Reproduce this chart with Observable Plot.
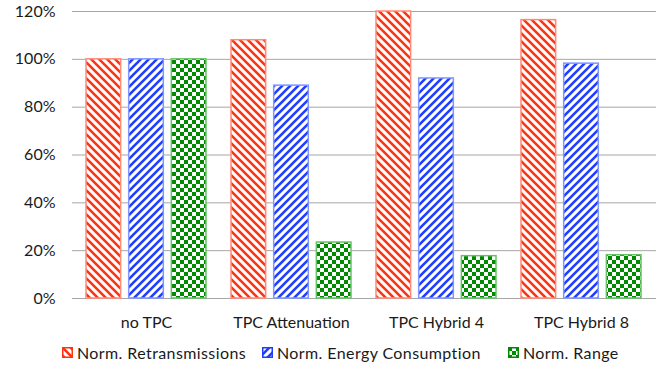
<!DOCTYPE html>
<html>
<head>
<meta charset="utf-8">
<script src="https://cdn.jsdelivr.net/npm/d3@7"></script>
<script src="https://cdn.jsdelivr.net/npm/@observablehq/plot@0.6"></script>
<style>
  html, body { margin: 0; padding: 0; background: #fff; }
  body { width: 670px; height: 369px; overflow: hidden; font-family: Lato, "Open Sans", sans-serif; }
  #legend { position: relative; height: 33px; font-size: 16px; color: #1a1a1a; letter-spacing: 0.4px; }
  #legend .item { position: absolute; top: 0; height: 33px; display: flex; align-items: center; gap: 4px; white-space: nowrap; }
  #legend svg { display: block; }
</style>
</head>
<body>
<svg id="patterns" width="0" height="0" style="position:absolute"></svg>
<div id="chart"></div>
<div id="legend"></div>
<script>
const categories = ["no TPC", "TPC Attenuation", "TPC Hybrid 4", "TPC Hybrid 8"];
const seriesNames = ["Norm. Retransmissions", "Norm. Energy Consumption", "Norm. Range"];
const retransmissions = [100, 108, 120, 116.4];
const energyConsumption = [100, 89, 92, 98.2];
const rangeValues = [100, 23.4, 17.7, 18.1];
const yTicks = [0, 20, 40, 60, 80, 100, 120];

const seriesValues = [retransmissions, energyConsumption, rangeValues];
const seriesColor = ["#ff3311", "#1f3dff", "#008a00"];
const seriesBorder = ["#ff8a78", "#7f95ff", "#66c266"];
const patternIds = ["hatch-down", "hatch-up", "checker"];

// Hatch and checker fills shared by the bars and the legend swatches
const defs = d3.select("#patterns").append("defs");
function tile(id) {
  const p = defs.append("pattern").attr("id", id)
    .attr("patternUnits", "userSpaceOnUse").attr("width", 8).attr("height", 8);
  p.append("rect").attr("width", 8).attr("height", 8).attr("fill", "#fff");
  return p;
}
tile("hatch-down").append("path")
  .attr("d", "M-1,-1L9,9M-2,6L2,10M6,-2L10,2")
  .attr("stroke", seriesColor[0]).attr("stroke-width", 2.6);
tile("hatch-up").append("path")
  .attr("d", "M-1,9L9,-1M-2,2L2,-2M6,10L10,6")
  .attr("stroke", seriesColor[1]).attr("stroke-width", 2.6);
const chk = tile("checker");
chk.append("rect").attr("x", 0).attr("y", 0).attr("width", 4).attr("height", 4).attr("fill", seriesColor[2]);
chk.append("rect").attr("x", 4).attr("y", 4).attr("width", 4).attr("height", 4).attr("fill", seriesColor[2]);

const table = [];
categories.forEach((c, i) => {
  seriesNames.forEach((s, j) => table.push({category: c, series: s, value: seriesValues[j][i]}));
});

// Each category band holds three bars side by side
const bandPaddingInner = 0.171, bandPaddingOuter = 0.0856;
const plotLeft = 72, plotRight = 656;
const step = (plotRight - plotLeft) / (categories.length - bandPaddingInner + 2 * bandPaddingOuter);
const bandwidth = step * (1 - bandPaddingInner);
const barGap = 7;
const barWidth = (bandwidth - 2 * barGap) / 3;

const chart = Plot.plot({
  width: 670,
  height: 336,
  marginTop: 11,
  marginBottom: 38,
  marginLeft: plotLeft,
  marginRight: 670 - plotRight,
  style: {fontFamily: "Lato, 'Open Sans', sans-serif", fontSize: "16px", color: "#1a1a1a"},
  x: {domain: categories, paddingInner: bandPaddingInner, paddingOuter: bandPaddingOuter, label: null},
  y: {domain: [0, 120], ticks: yTicks, label: null},
  marks: [
    Plot.gridY(yTicks, {stroke: "#a6a6a6", strokeOpacity: 1, strokeWidth: 1}),
    Plot.axisY(yTicks, {tickSize: 0, tickPadding: 17, tickFormat: d => d + "%", label: null, fontSize: 16}),
    Plot.axisX({tickSize: 0, tickPadding: 18, label: null, fontSize: 16}),
    ...seriesNames.map((s, j) => Plot.barY(table.filter(d => d.series === s), {
      x: "category", y: "value",
      insetLeft: j * (barWidth + barGap),
      insetRight: (2 - j) * (barWidth + barGap),
      fill: `url(#${patternIds[j]})`, stroke: seriesBorder[j], strokeWidth: 1.5
    }))
  ]
});
document.getElementById("chart").append(chart);

// Legend with patterned swatches
const legendLeft = [62, 262, 508];
const legend = d3.select("#legend");
seriesNames.forEach((s, j) => {
  const item = legend.append("div").attr("class", "item").style("left", legendLeft[j] + "px");
  const sw = item.append("svg").attr("width", 11).attr("height", 11);
  sw.append("rect").attr("x", 0.75).attr("y", 0.75).attr("width", 9.5).attr("height", 9.5)
    .attr("fill", `url(#${patternIds[j]})`).attr("stroke", seriesColor[j]).attr("stroke-width", 1.5);
  item.append("span").text(s);
});
</script>
</body>
</html>
